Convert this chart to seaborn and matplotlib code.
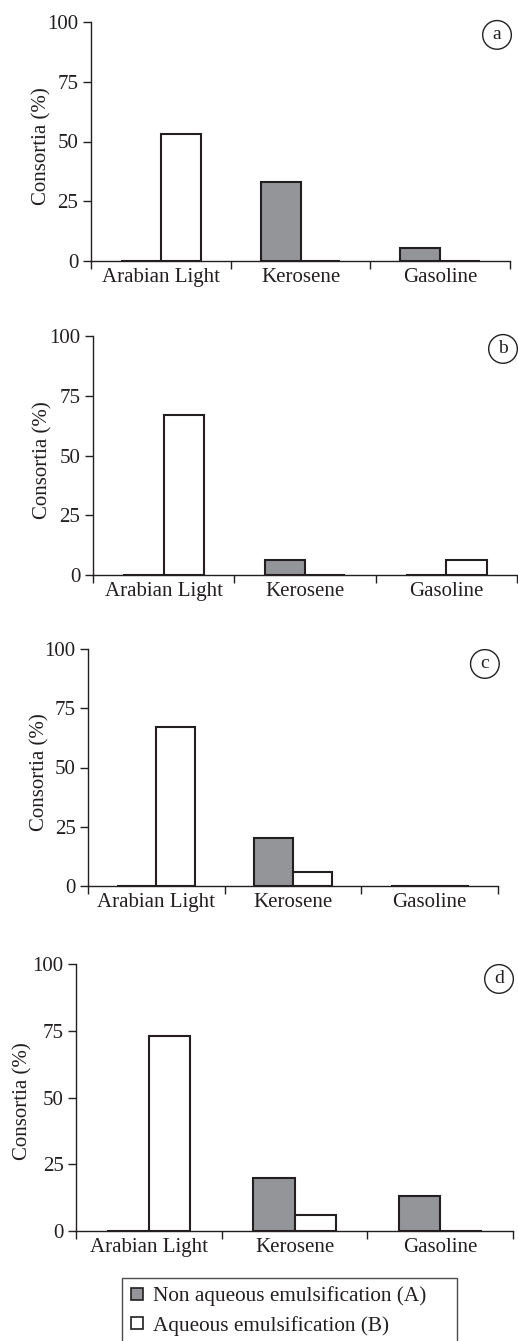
import matplotlib
matplotlib.use("Agg")
import matplotlib.pyplot as plt
from matplotlib.patches import Patch
from matplotlib.ticker import FixedLocator, NullFormatter, FixedFormatter
import seaborn as sns
import pandas as pd

categories = ["Arabian Light", "Kerosene", "Gasoline"]
series_names = ["Non aqueous emulsification (A)", "Aqueous emulsification (B)"]
panel_letters = ["a", "b", "c", "d"]

a_nonaq = [0, 33, 5.5]
a_aq = [53, 0, 0]
b_nonaq = [0, 6.5, 0]
b_aq = [67, 0, 6.5]
c_nonaq = [0, 20, 0]
c_aq = [67, 5.7, 0]
d_nonaq = [0, 19.8, 13]
d_aq = [73, 6, 0]

yticks = [0, 25, 50, 75, 100]

panels = [(a_nonaq, a_aq), (b_nonaq, b_aq), (c_nonaq, c_aq), (d_nonaq, d_aq)]

sns.set_style("white")
plt.rcParams['font.family'] = ['Liberation Serif', 'DejaVu Serif']

INK = '#231f20'
GREY = '#939598'

fig = plt.figure(figsize=(5.18, 13.41), dpi=100)

W, H = 518, 1341
# (left, right, top(y=100), bottom(y=0)) in pixels
rects = [(91, 510, 22, 261), (93, 517, 336, 575.3), (88, 498, 649.3, 885.7), (76, 513, 964.3, 1231)]
label_pos = [(0.969, 0.946), (0.967, 0.946), (0.968, 0.938), (0.968, 0.945)]
ylabel_x = [-0.094, -0.0955, -0.094, -0.0995]
ylabel_y = [0.481, 0.48, 0.48, 0.487]

for i, ((nonaq, aq), (l, r, t, b)) in enumerate(zip(panels, rects)):
    ax = fig.add_axes([l / W, 1 - b / H, (r - l) / W, (b - t) / H])
    df = pd.DataFrame({
        "cat": categories * 2,
        "series": [series_names[0]] * 3 + [series_names[1]] * 3,
        "val": list(nonaq) + list(aq),
    })
    sns.barplot(data=df, x="cat", y="val", hue="series", order=categories,
                hue_order=series_names,
                palette={series_names[0]: GREY, series_names[1]: "white"},
                width=0.57, edgecolor=INK, linewidth=1.5, errorbar=None,
                legend=False, ax=ax, saturation=1)
    ax.set_xlim(-0.5, 2.5)
    ax.set_ylim(0, 100)
    ax.set_yticks(yticks)
    ax.set_yticklabels([str(v) for v in yticks], fontsize=15, color=INK)
    ax.xaxis.set_major_locator(FixedLocator([-0.5, 0.5, 1.5, 2.5]))
    ax.xaxis.set_major_formatter(NullFormatter())
    ax.xaxis.set_minor_locator(FixedLocator([0, 1, 2]))
    ax.xaxis.set_minor_formatter(FixedFormatter(categories))
    ax.tick_params(axis='x', which='minor', bottom=True, length=0, pad=5,
                   labelsize=15, labelcolor=INK)
    ax.tick_params(axis='x', which='major', bottom=True, length=6, width=1,
                   color=INK, direction='out')
    ax.tick_params(axis='y', which='major', left=True, length=6, width=1,
                   color=INK, direction='out', pad=3)
    ax.set_xlabel("")
    ax.set_ylabel("Consortia (%)", fontsize=15, color=INK)
    ax.yaxis.set_label_coords(ylabel_x[i], ylabel_y[i])
    for s in ['top', 'right']:
        ax.spines[s].set_visible(False)
    for s in ['left', 'bottom']:
        ax.spines[s].set_color(INK)
        ax.spines[s].set_linewidth(1)
    ax.text(label_pos[i][0], label_pos[i][1], panel_letters[i], transform=ax.transAxes,
            ha='center', va='center', fontsize=14, color=INK,
            bbox=dict(boxstyle='circle,pad=0.3', fc='white', ec=INK, lw=1))

handles = [Patch(facecolor=GREY, edgecolor=INK, linewidth=1.2),
           Patch(facecolor='white', edgecolor=INK, linewidth=1.2)]
leg_top = 1 - 1278 / H
leg = fig.legend(handles, series_names, loc='upper left', mode='expand',
                 bbox_to_anchor=(122 / W, leg_top - 0.06, (457 - 122) / W, 0.06),
                 fontsize=15.3,
                 frameon=True, fancybox=False, edgecolor=INK,
                 handlelength=0.58, handleheight=0.5, handletextpad=0.5,
                 labelspacing=0.45, borderpad=0.4, borderaxespad=0)
leg.get_frame().set_linewidth(1)
for t in leg.get_texts():
    t.set_color(INK)

fig.savefig("out.png", dpi=100)
